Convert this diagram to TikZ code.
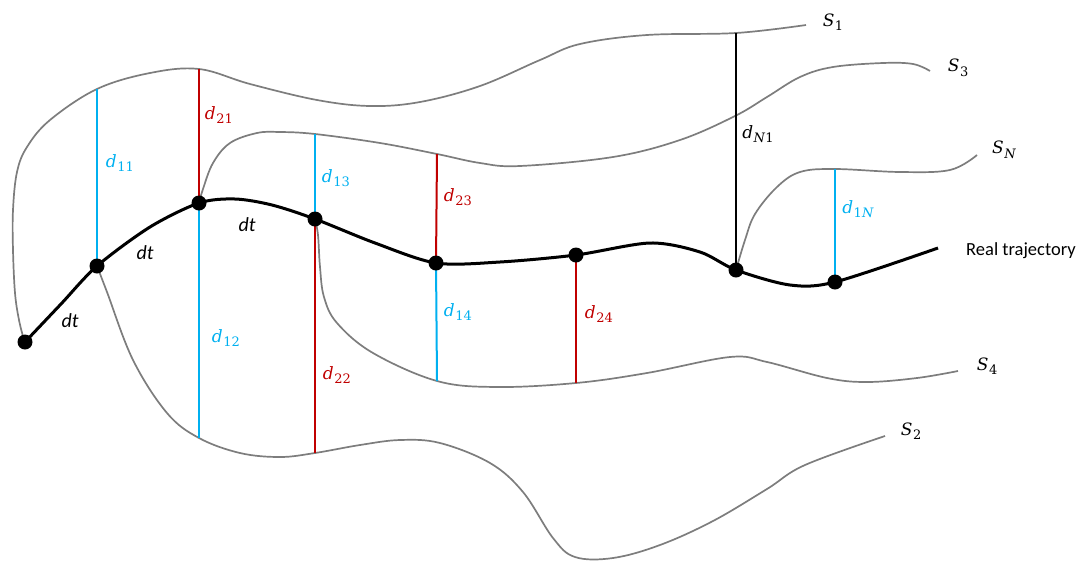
\documentclass[tikz,border=0pt]{standalone}
\usepackage{fontspec}
\newfontfamily\calfont{Carlito}
\newfontfamily\lblfont{DejaVu Serif}
% label: italic main letter with subscript
\newcommand\dsub[2]{{\lblfont\fontsize{17}{20}\selectfont\itshape #1}\kern0.6pt\raisebox{-4.5pt}{\lblfont\fontsize{13}{15}\selectfont #2}}
\begin{document}
\begin{tikzpicture}[x=1pt,y=-1pt,
  curve/.style={draw={rgb,255:red,125;green,125;blue,125},line width=1.7pt,smooth,tension=0.6},
  bluel/.style={draw={rgb,255:red,0;green,176;blue,240},line width=2pt},
  redl/.style={draw={rgb,255:red,192;green,0;blue,0},line width=2pt},
  blackl/.style={draw=black,line width=1.6pt},
  dot/.style={circle,fill=black,inner sep=0pt,minimum size=15pt},
  lab/.style={inner sep=0pt},
  blab/.style={lab,text={rgb,255:red,0;green,176;blue,240}},
  rlab/.style={lab,text={rgb,255:red,192;green,0;blue,0}},
  dtlab/.style={font=\calfont\itshape\fontsize{20}{22}\selectfont,inner sep=0pt}]
\useasboundingbox (0,0) rectangle (1086,563);
% trajectory points
\coordinate (p0) at (25,342);
\coordinate (p1) at (97,266);
\coordinate (p2) at (199,203);
\coordinate (p3) at (315,219);
\coordinate (p4) at (436,263);
\coordinate (p5) at (576,255);
\coordinate (p6) at (736,270);
\coordinate (p7) at (835,282);
\coordinate (pe) at (938,248);
% top/bottom ends of distances
\coordinate (t11) at (97,89);
\coordinate (t21) at (199,69);
\coordinate (t12) at (199,438);
\coordinate (t13) at (315,134);
\coordinate (t22) at (315,453);
\coordinate (t23) at (437,154);
\coordinate (t14) at (437,381);
\coordinate (t24) at (576,383);
\coordinate (tN1) at (736,33);
\coordinate (t1N) at (835,169);
% S curves
\path[curve] plot coordinates {(24,340) (19,320) (15,293) (13,250) (13,210) (17,172) (27,147) (50,120) (97,89) (150,73) (199,69) (250,84) (317,100) (370,106) (420,102) (480,86) (540,60) (580,44) (647,35) (736,33) (806,25)};
\path[curve] plot coordinates {(97,266) (107,292) (133,360) (167,413) (199,438) (240,453) (280,457) (315,453) (360,445) (400,440) (440,443) (490,463) (523,492) (553,538) (575,557) (613,558) (660,545) (713,521) (767,489) (805,465) (885,436)};
\path[curve] plot coordinates {(199,203) (203,189) (213,163) (230,143) (257,133) (280,132) (315,134) (380,143) (437,154) (480,163) (520,166) (613,157) (680,140) (735,116) (767,97) (800,77) (833,67) (883,63) (913,64) (930,71)};
\path[curve] plot coordinates {(315,219) (318,235) (320,267) (324,297) (337,323) (373,353) (437,381) (497,387) (576,383) (647,373) (730,357) (767,362) (827,378) (867,382) (917,378) (958,371)};
\path[curve] plot coordinates {(736,270) (745,240) (755,214) (777,187) (800,172) (835,169) (900,172) (950,170) (977,155)};
% distances
\draw[bluel] (p1) -- (t11);
\draw[redl] (p2) -- (t21);
\draw[bluel] (p2) -- (t12);
\draw[bluel] (p3) -- (t13);
\draw[redl] (p3) -- (t22);
\draw[redl] (p4) -- (t23);
\draw[bluel] (p4) -- (t14);
\draw[redl] (p5) -- (t24);
\draw[blackl] (p6) -- (tN1);
\draw[bluel] (p7) -- (t1N);
% trajectory
\draw[line width=3pt,smooth,tension=0.5] plot coordinates {(p0) (61,304) (p1) (150,227) (p2) (235,199) (272,205) (p3) (375,243) (p4) (500,262) (p5) (650,243) (700,252) (p6) (790,285) (p7) (pe)};
\node[dot] (n0) at (p0) {};
\node[dot] (n1) at (p1) {};
\node[dot] (n2) at (p2) {};
\node[dot] (n3) at (p3) {};
\node[dot] (n4) at (p4) {};
\node[dot] (n5) at (p5) {};
\node[dot] (n6) at (p6) {};
\node[dot] (n7) at (p7) {};
% labels
\node[blab] (l11) at (120,163) {\dsub{d}{11}};
\node[rlab] (l21) at (219,115) {\dsub{d}{21}};
\node[blab] (l12) at (226,338) {\dsub{d}{12}};
\node[blab] (l13) at (336,178) {\dsub{d}{13}};
\node[rlab] (l22) at (337,375) {\dsub{d}{22}};
\node[rlab] (l23) at (458,197) {\dsub{d}{23}};
\node[blab] (l14) at (458,312) {\dsub{d}{14}};
\node[rlab] (l24) at (599,314) {\dsub{d}{24}};
\node[lab] (lN1) at (758,134) {\dsub{d}{\textit{N}1}};
\node[blab] (l1N) at (858,209) {\dsub{d}{1\textit{N}}};
\node[dtlab] (dt1) at (70,321) {dt};
\node[dtlab] (dt2) at (145,253) {dt};
\node[dtlab] (dt3) at (247,225) {dt};
\node[lab] (s1) at (833,22) {\dsub{S}{1}};
\node[lab] (s3) at (958,68) {\dsub{S}{3}};
\node[lab] (sN) at (1004,150) {\dsub{S}{\textit{N}}};
\node[lab] (s4) at (987,366) {\dsub{S}{4}};
\node[lab] (s2) at (911,431) {\dsub{S}{2}};
\node[font=\calfont\fontsize{18.5}{21}\selectfont,inner sep=0pt,anchor=west] (rt) at (966,251) {Real trajectory};
\end{tikzpicture}
\end{document}
